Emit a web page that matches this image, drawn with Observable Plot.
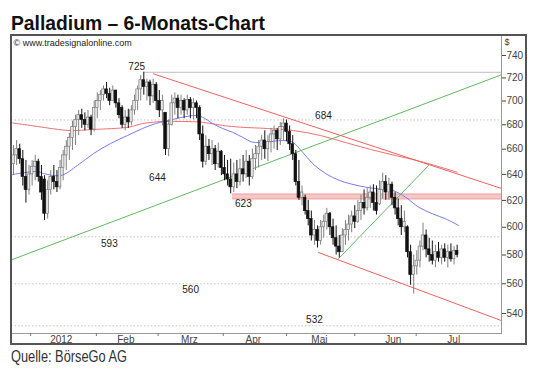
<!DOCTYPE html>
<html><head><meta charset="utf-8">
<script src="https://cdn.jsdelivr.net/npm/d3@7"></script>
<script src="https://cdn.jsdelivr.net/npm/@observablehq/plot@0.6"></script>
<style>
html,body{margin:0;padding:0;background:#fff;}
body{width:535px;height:371px;position:relative;overflow:hidden;font-family:"Liberation Sans",Arial,sans-serif;}
#title{position:absolute;left:11px;top:11.5px;font-weight:bold;font-size:21px;line-height:21px;color:#111;white-space:nowrap;transform-origin:0 0;}
#caption{position:absolute;left:11px;top:349px;font-size:16px;line-height:16px;color:#333;white-space:nowrap;transform-origin:0 0;}
#chart{position:absolute;left:11px;top:35px;}
#frame{position:absolute;left:10px;top:34px;width:517px;height:311px;box-sizing:border-box;border:2px solid #555;pointer-events:none;}
</style></head>
<body>
<div id="title">Palladium – 6-Monats-Chart</div>
<div id="chart"></div>
<div id="frame"></div>
<div id="caption">Quelle: BörseGo AG</div>
<script>
// Daily candles (bar index 0..143), values in $
const open = [648,655,660,652,638,628,640,646,650,638, 636,610,628,638,634,630,645,655,662,669,
  678,684,688,684,680,686,676,694,700,705, 710,706,700,709,698,694,680,686,682,692,
  700,710,718,712,716,704,714,700,692,690, 660,680,698,702,694,700,692,701,694,698,
  694,672,650,662,656,660,648,658,645,640, 636,630,640,634,644,640,650,638,652,656,
  662,667,660,666,672,675,668,678,681,674, 664,656,634,622,622,612,606,594,598,590,
  600,604,610,600,592,586,582,594,598,602, 608,604,612,618,614,622,626,618,617,628,
  634,626,632,622,614,606,600,600,582,566, 572,576,586,594,584,580,576,582,578,584,
  578,582,577,583];
const close = [655,660,652,638,628,640,646,650,638,626, 610,628,638,634,630,645,655,662,669,678,
  684,688,684,680,686,676,694,700,705,710, 706,700,709,698,688,680,686,682,692,700,
  710,718,712,716,704,714,700,692,700,660, 680,698,702,694,700,692,701,694,698,694,
  672,650,662,656,660,648,658,645,640,636, 630,640,634,644,640,650,638,652,656,662,
  667,660,666,672,675,668,678,681,674,664, 656,634,622,626,612,606,594,598,590,600,
  604,610,600,592,586,582,594,598,602,608, 604,612,618,614,622,626,618,612,628,634,
  626,632,622,614,606,600,604,582,566,572, 576,586,594,584,580,576,582,578,584,578,
  582,577,583,580];
const high = [663,667,664,659,651,647,651,655,652,647, 639,635,643,647,643,651,659,667,673,683,
  688,692,693,690,692,688,700,707,709,713, 716,711,713,709,702,696,692,693,696,705,
  713,722,725,719,718,719,716,709,705,690, 684,705,707,705,705,702,705,703,702,700,
  696,679,671,668,667,663,665,659,655,651, 652,649,651,652,655,659,655,660,663,667,
  671,675,671,677,679,677,682,685,684,679, 671,659,651,631,624,620,612,605,601,605,
  609,614,611,606,601,594,599,605,609,612, 616,620,624,628,629,631,632,631,635,641,
  639,637,634,626,621,616,612,601,587,580, 583,590,603,598,592,590,587,589,587,588,
  587,588,586,587];
const low = [639,647,648,631,618,624,631,635,634,620, 605,606,624,628,626,628,635,643,651,659,
  663,671,677,675,677,671,674,685,692,700, 702,696,700,694,685,677,675,677,679,688,
  692,700,705,700,696,698,692,686,679,655, 654,679,688,685,688,685,688,685,684,685,
  667,645,647,651,647,643,645,639,635,631, 625,626,629,631,634,637,631,636,643,645,
  651,652,650,657,660,659,663,667,666,659, 651,631,620,616,609,601,590,587,585,587,
  592,598,594,587,580,578,582,587,590,596, 599,603,605,609,612,614,612,609,616,621,
  620,620,616,609,601,594,596,578,559,553, 566,571,583,578,575,573,571,575,573,575,
  571,575,573,578];

// Moving averages (bar index, value)
const ma200Idx = [-0.3,5.5,14.5,18.4,25.8,37.1,41.6,48.0,54.5,60.9,67.4,73.2,81.9,90.3,99.0,107.0,115.1,123.2,131.2,143.1];
const ma200Val = [681.5,679.4,676.1,675.2,676.1,678.0,681.0,682.7,682.7,682.1,679.4,678.0,676.9,675.2,671.1,665.4,659.8,654.9,650.2,641.7];
const ma50Idx = [-0.3,7.7,9.7,15.2,20.6,25.8,31.3,36.7,41.6,45.8,51.3,54.5,58.7,60.9,64.2,67.4,70.6,73.8,77.1,81.2,86.7,89.9,93.2,96.4,100.6,105.1,108.6,113.5,117.7,122.2,126.4,130.6,135.1,139.3,143.5];
const ma50Val = [639.9,642.3,640.7,639.1,647.0,656.5,664.6,671.1,676.9,681.0,684.4,686.3,687.7,686.3,681.0,676.9,673.8,669.7,665.7,665.7,667.0,665.7,657.6,648.6,640.7,635.3,632.7,630.1,628.8,627.6,622.4,614.9,609.9,606.2,601.3];

// Trend lines: [startIdx, startVal, endIdx, endVal]
const greenLong = [-0.65, 576.6, 157.3, 722.8];
const greenShort = [104.8, 577.5, 133.8, 647.0];
const redUpper = [45.1, 723.6, 157.3, 629.1];
const redLower = [98.3, 581.8, 157.2, 535.4];

// Horizontal levels
const levelVals = [725, 684, 593, 560, 532];
const levelFrom = [41.9, -0.65, -0.65, -0.65, -0.65];
const bandVal = 623, bandFrom = 70.6;

// Annotation labels
const noteText = ["725","684","644","623","593","560","532"];
const noteIdx = [39.7, 99.9, 46.4, 74.1, 30.9, 57.1, 97.0];
const noteVal = [730.1, 687.7, 637.6, 617.7, 588.2, 556.1, 536.1];

// Axes
const yTicks = [540,560,580,600,620,640,660,680,700,720,740];
const monthTickIdx = [5.5, 26.7, 46.6, 67.6, 88.0, 110.0, 129.8];
const monthLabels = ["2012","Feb","Mrz","Apr","Mai","Jun","Jul"];
const monthLabelIdx = [15.4, 36.2, 56.7, 77.3, 98.6, 122.4, 141.9];

const xMax = 157.3, xMin = -0.65;

const bars = open.map((o, i) => ({i, open: o, close: close[i], high: high[i], low: low[i], up: close[i] >= o}));
const upBars = bars.filter(d => d.up), downBars = bars.filter(d => !d.up);
const ma200 = ma200Idx.map((x, k) => ({x, y: ma200Val[k]}));
const ma50 = ma50Idx.map((x, k) => ({x, y: ma50Val[k]}));
const seg = a => [{x: a[0], y: a[1]}, {x: a[2], y: a[3]}];
const levels = levelVals.map((v, k) => ({v, from: levelFrom[k]}));
const notes = noteText.map((t, k) => ({t, x: noteIdx[k], y: noteVal[k]}));
const mLabels = monthLabels.map((t, k) => ({t, x: monthLabelIdx[k]}));

const chart = Plot.plot({
  width: 516, height: 309,
  marginLeft: 0, marginTop: 0, marginRight: 26, marginBottom: 11,
  style: {fontFamily: "'Liberation Sans', Arial, sans-serif", fontSize: "10px", background: "transparent", overflow: "visible"},
  x: {type: "linear", domain: [xMin, xMax], axis: null},
  y: {type: "log", domain: [527, 758.3], axis: null},
  marks: [
    // horizontal levels
    Plot.ruleY(levels.filter(d => d.v !== 725), {y: "v", x1: "from", x2: xMax, stroke: "#c4c4c4", strokeDasharray: "1.5,2"}),
    Plot.ruleY(levels.filter(d => d.v === 725), {y: "v", x1: "from", x2: xMax, stroke: "#bdbdbd"}),
    Plot.ruleY([bandVal], {x1: bandFrom, x2: xMax, stroke: "#f7c6c6", strokeWidth: 5}),
    Plot.ruleY([bandVal], {x1: bandFrom, x2: xMax, stroke: "#eda0a0", strokeWidth: 1, dy: -2.5}),
    Plot.ruleY([bandVal], {x1: bandFrom, x2: xMax, stroke: "#eda0a0", strokeWidth: 1, dy: 2.5}),
    // moving averages
    Plot.line(ma200, {x: "x", y: "y", stroke: "#f07070", strokeWidth: 1, curve: "catmull-rom"}),
    Plot.line(ma50, {x: "x", y: "y", stroke: "#7a7af5", strokeWidth: 1, curve: "catmull-rom"}),
    // trend lines
    Plot.line(seg(greenLong), {x: "x", y: "y", stroke: "#63b863", strokeWidth: 1}),
    Plot.line(seg(greenShort), {x: "x", y: "y", stroke: "#63b863", strokeWidth: 1}),
    Plot.line(seg(redUpper), {x: "x", y: "y", stroke: "#f06060", strokeWidth: 1}),
    Plot.line(seg(redLower), {x: "x", y: "y", stroke: "#f06060", strokeWidth: 1}),
    // candles
    Plot.ruleX(upBars, {x: "i", y1: "low", y2: "high", stroke: "#808080", strokeWidth: 1}),
    Plot.ruleX(downBars, {x: "i", y1: "low", y2: "high", stroke: "#111", strokeWidth: 1}),
    Plot.rect(upBars, {x1: d => d.i - 0.42, x2: d => d.i + 0.42, y1: "open", y2: "close", fill: "#e6e6e6", stroke: "#7a7a7a", strokeWidth: 0.7}),
    Plot.rect(downBars, {x1: d => d.i - 0.42, x2: d => d.i + 0.42, y1: "open", y2: "close", fill: "#111", stroke: "#111", strokeWidth: 0.7}),
    // annotations
    Plot.text(notes, {x: "x", y: "y", text: "t", fontSize: 10, fill: "#222"}),
    Plot.text(["© www.tradesignalonline.com"], {frameAnchor: "top-left", dx: 2, dy: 7.3, textAnchor: "start", lineAnchor: "middle", fontSize: 9, fill: "#222"}),
    // frame & axes
    Plot.frame({stroke: "#999"}),
    Plot.axisY(yTicks, {anchor: "right", tickSize: 4, tickPadding: 1, fontSize: 10, color: "#444", tickFormat: d => String(d)}),
    Plot.text(["$"], {frameAnchor: "top-right", dx: 3, dy: 6.7, textAnchor: "start", lineAnchor: "middle", fontSize: 9, fill: "#444"}),
    Plot.axisX(monthTickIdx, {anchor: "bottom", tickSize: 3, tickFormat: () => "", color: "#777"}),
    Plot.text(mLabels, {x: "x", text: "t", frameAnchor: "bottom", dy: 6.5, lineAnchor: "middle", fontSize: 10, fill: "#444"})
  ]
});
document.getElementById("chart").appendChild(chart);

function fit(id, w) {
  const el = document.getElementById(id);
  el.style.transform = "none";
  const cw = el.getBoundingClientRect().width;
  if (cw > 0) el.style.transform = `scaleX(${w / cw})`;
}
fit("title", 254);
fit("caption", 116);
if (document.fonts && document.fonts.ready) document.fonts.ready.then(() => { fit("title", 254); fit("caption", 116); });
</script>
</body></html>
